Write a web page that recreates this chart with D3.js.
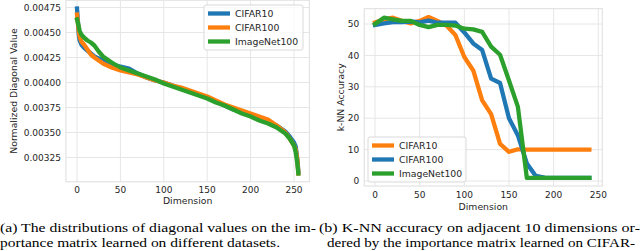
<!DOCTYPE html>
<html lang="en">
<head>
    <meta charset="UTF-8">
    <title>diagonal values / k-NN accuracy</title>
    <script type="text/javascript" src="https://cdn.jsdelivr.net/npm/d3@7/dist/d3.min.js"></script>
    <style>
        body { margin: 0; background: #fff; }
        text { font-family: "DejaVu Sans", sans-serif; fill: #262626; }
        .cap { font-family: "Liberation Serif", "Times New Roman", serif; fill: #000; font-size: 13.4px; }
    </style>
</head>
<body>
<script type="text/javascript">
    const width = 640, height = 251;

    // ---- (a) diagonal values, sorted ----
    const dimsA = [0, 1, 2, 3, 5, 8, 12, 16, 20, 25, 30, 40, 50, 60, 70, 80, 90, 100, 110, 120,
        130, 140, 150, 160, 170, 180, 190, 200, 210, 220, 230, 240, 245, 250, 252, 254, 255];
    const cifar10A = [0.00474, 0.00462, 0.00448, 0.00442, 0.00438, 0.00435, 0.00432, 0.00429, 0.00426, 0.00424,
        0.00422, 0.00418, 0.00416, 0.00414, 0.00409, 0.00405, 0.00402, 0.00400, 0.00397, 0.00394,
        0.00391, 0.00388, 0.00385, 0.00381, 0.00377, 0.00373, 0.00370, 0.00367, 0.00364, 0.00360,
        0.00357, 0.00351, 0.00346, 0.00340, 0.00336, 0.00322, 0.00311];
    const cifar100A = [0.00468, 0.00460, 0.00452, 0.00446, 0.00441, 0.00438, 0.00433, 0.00428, 0.00425, 0.00422,
        0.00419, 0.00415, 0.00412, 0.00410, 0.00408, 0.00405, 0.00402, 0.00400, 0.00397, 0.00395,
        0.00392, 0.00389, 0.00386, 0.00382, 0.00378, 0.00375, 0.00372, 0.00369, 0.00366, 0.00363,
        0.00357, 0.00350, 0.00344, 0.00337, 0.00333, 0.00322, 0.00309];
    const imagenetA = [0.00463, 0.00460, 0.00456, 0.00452, 0.00448, 0.00445, 0.00442, 0.00440, 0.00437, 0.00431,
        0.00426, 0.00420, 0.00415, 0.00412, 0.00409, 0.00406, 0.00403, 0.00399, 0.00396, 0.00393,
        0.00390, 0.00387, 0.00384, 0.00380, 0.00377, 0.00373, 0.00369, 0.00366, 0.00362, 0.00359,
        0.00355, 0.00349, 0.00344, 0.00337, 0.00330, 0.00318, 0.00309];
    const xTicksA = [0, 50, 100, 150, 200, 250];
    const yTicksA = [0.00325, 0.00350, 0.00375, 0.00400, 0.00425, 0.00450, 0.00475];

    // ---- (b) k-NN accuracy on adjacent 10 dims ----
    const dimsB = [0, 10, 20, 30, 40, 50, 60, 70, 80, 90, 100, 110, 120, 130, 140, 150, 160, 170, 180, 190, 200, 210, 220, 230, 240];
    const cifar10B = [50.5, 51.5, 52.0, 51.0, 50.2, 51.0, 52.2, 51.0, 49.5, 46.5, 39.5, 35.2, 25.7, 21.3, 11.8, 9.3, 10.1, 10.0, 10.0, 10.0, 10.0, 10.0, 10.0, 10.0, 10.0];
    const cifar100B = [49.7, 50.2, 50.6, 50.6, 50.8, 50.5, 51.1, 50.4, 50.4, 50.4, 47.3, 43.8, 41.7, 32.6, 31.2, 20.0, 14.5, 5.6, 1.6, 1.1, 1.0, 1.0, 1.0, 1.0, 1.0];
    const imagenetB = [50.0, 52.0, 51.5, 51.0, 51.0, 49.7, 49.0, 49.7, 49.7, 49.5, 48.5, 48.3, 47.5, 42.8, 40.2, 32.0, 23.6, 1.0, 1.0, 1.0, 1.0, 1.0, 1.0, 1.0, 1.0];
    const xTicksB = [0, 50, 100, 150, 200, 250];
    const yTicksB = [0, 10, 20, 30, 40, 50];

    const blue = '#1f77b4', orange = '#ff7f0e', green = '#2ca02c';

    const svg = d3.select('body').append('svg')
        .attr('width', width)
        .attr('height', height);

    function panel(cfg) {
        const g = svg.append('g');
        const x = cfg.x, y = cfg.y;
        const x0 = x(cfg.xLim[0]), x1 = x(cfg.xLim[1]);
        const y0 = y(cfg.yLim[0]), y1 = y(cfg.yLim[1]);

        // grid
        g.selectAll('.gx').data(cfg.xTicks).enter().append('line')
            .attr('x1', d => x(d)).attr('x2', d => x(d))
            .attr('y1', y1).attr('y2', y0)
            .style('stroke', '#e6e6e6').style('stroke-width', 1);
        g.selectAll('.gy').data(cfg.yTicks).enter().append('line')
            .attr('x1', x0).attr('x2', x1)
            .attr('y1', d => y(d)).attr('y2', d => y(d))
            .style('stroke', '#e6e6e6').style('stroke-width', 1);
        g.append('rect')
            .attr('x', x0).attr('y', y1)
            .attr('width', x1 - x0).attr('height', y0 - y1)
            .style('fill', 'none').style('stroke', '#e3e3e3').style('stroke-width', 1.2);

        // tick labels
        g.selectAll('.tx').data(cfg.xTicks).enter().append('text')
            .attr('x', d => x(d)).attr('y', cfg.xTickY)
            .attr('dy', '0.35em')
            .attr('text-anchor', 'middle')
            .style('font-size', '9px')
            .text(d => d);
        g.selectAll('.ty').data(cfg.yTicks).enter().append('text')
            .attr('x', x0 - 5).attr('y', d => y(d))
            .attr('dy', '0.35em')
            .attr('text-anchor', 'end')
            .style('font-size', '9px')
            .text(cfg.yFmt);

        g.append('text')
            .attr('x', (x0 + x1) / 2).attr('y', cfg.xLabelY)
            .attr('dy', '0.35em')
            .attr('text-anchor', 'middle')
            .style('font-size', '9.3px')
            .text('Dimension');
        g.append('text')
            .attr('transform', 'translate(' + cfg.yLabelX + ',' + (y0 + y1) / 2 + ') rotate(-90)')
            .attr('dy', '0.35em')
            .attr('text-anchor', 'middle')
            .style('font-size', '9.3px')
            .text(cfg.yLabel);

        // lines
        const clip = 'clip' + cfg.id;
        svg.append('clipPath').attr('id', clip).append('rect')
            .attr('x', x0).attr('y', y1).attr('width', x1 - x0).attr('height', y0 - y1);
        const line = d3.line().x(d => x(d[0])).y(d => y(d[1]));
        g.append('g').attr('clip-path', 'url(#' + clip + ')')
            .selectAll('path').data(cfg.series).enter().append('path')
            .attr('d', s => line(cfg.dims.map((v, i) => [v, s.values[i]])))
            .style('fill', 'none')
            .style('stroke', s => s.color)
            .style('stroke-width', 4.3)
            .style('stroke-linejoin', 'round')
            .style('stroke-linecap', 'square');

        // legend
        const L = cfg.legend;
        const lg = g.append('g');
        lg.append('rect')
            .attr('x', L.x).attr('y', L.y)
            .attr('width', L.w).attr('height', L.h)
            .attr('rx', 2)
            .style('fill', 'rgba(255,255,255,0.8)')
            .style('stroke', '#d9d9d9').style('stroke-width', 1);
        const items = lg.selectAll('.it').data(cfg.series).enter().append('g')
            .attr('transform', (s, i) => 'translate(' + L.x + ',' + (L.y + 8.5 + i * 14) + ')');
        items.append('line')
            .attr('x1', 4).attr('x2', 26)
            .style('stroke', s => s.color)
            .style('stroke-width', 4.3);
        items.append('text')
            .attr('x', 31).attr('dy', '0.35em')
            .style('font-size', '9.3px')
            .text(s => s.name);
    }

    const xA = d3.scaleLinear().domain([0, 250]).range([77, 294]);
    const yA = d3.scaleLinear().domain([0.00325, 0.00475]).range([157.5, 7.5]);
    panel({
        id: 'a', x: xA, y: yA,
        xLim: [-12.75, 267.75], yLim: [0.0030075, 0.0048225],
        xTicks: xTicksA, yTicks: yTicksA,
        yFmt: d => d3.format('.5f')(d),
        xTickY: 190, xLabelY: 201, yLabelX: 14,
        yLabel: 'Normalized Diagonal Value',
        dims: dimsA,
        series: [
            {name: 'CIFAR10', color: blue, values: cifar10A},
            {name: 'CIFAR100', color: orange, values: cifar100A},
            {name: 'ImageNet100', color: green, values: imagenetA}
        ],
        legend: {x: 204, y: 5, w: 99, h: 45}
    });

    const xB = d3.scaleLinear().domain([0, 250]).range([375, 598.3]);
    const yB = d3.scaleLinear().domain([0, 50]).range([181, 24]);
    panel({
        id: 'b', x: xB, y: yB,
        xLim: [-12, 254.5], yLim: [-1.6, 54.9],
        xTicks: xTicksB, yTicks: yTicksB,
        yFmt: d => d,
        xTickY: 195, xLabelY: 207, yLabelX: 341,
        yLabel: 'k-NN Accuracy',
        dims: dimsB,
        series: [
            {name: 'CIFAR10', color: orange, values: cifar10B},
            {name: 'CIFAR100', color: blue, values: cifar100B},
            {name: 'ImageNet100', color: green, values: imagenetB}
        ],
        legend: {x: 368, y: 137, w: 98, h: 45}
    });

    // captions
    const captions = [
        {x: 0, y: 232, w: 316, t: '(a) The distributions of diagonal values on the im-'},
        {x: 0, y: 247, w: 280, t: 'portance matrix learned on different datasets.'},
        {x: 319, y: 232, w: 321, t: '(b) K-NN accuracy on adjacent 10 dimensions or-'},
        {x: 327, y: 247, w: 308, t: 'dered by the importance matrix learned on CIFAR-'}
    ];
    svg.selectAll('.cap').data(captions).enter().append('text')
        .attr('class', 'cap')
        .attr('x', d => d.x).attr('y', d => d.y)
        .attr('textLength', d => d.w)
        .attr('lengthAdjust', 'spacingAndGlyphs')
        .text(d => d.t);
</script>
</body>
</html>
